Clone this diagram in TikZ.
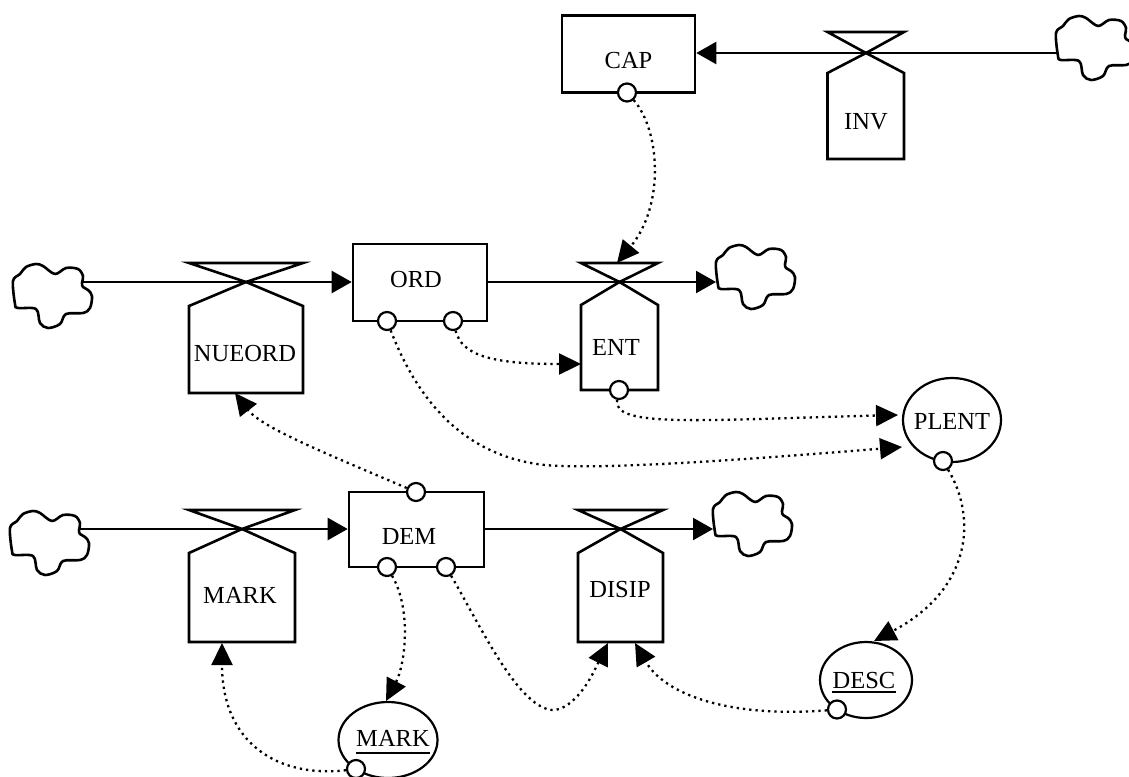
\documentclass[tikz,border=0pt]{standalone}
\usepackage{fontspec}
\setmainfont{Liberation Serif}
\usetikzlibrary{arrows.meta,shapes.geometric}
\tikzset{
  flowline/.style={line width=2.4pt,-{Triangle[length=20pt,width=22pt]}},
  infolink/.style={line width=2.3pt,dash pattern=on 2.3pt off 4pt,-{Triangle[length=22pt,width=21pt]}},
  stockbox/.style={draw,line width=2.6pt,inner sep=0pt},
  valveline/.style={line width=2.6pt,line join=miter},
  auxvar/.style={draw,ellipse,line width=2.2pt,inner sep=0pt},
  port/.style={draw,circle,fill=white,line width=2.2pt,minimum size=18pt,inner sep=0pt},
  lbl/.style={inner sep=0pt,font=\fontsize{24.5}{28}\selectfont},
  ulbar/.style={line width=2pt},
  cloudline/.style={line width=2.6pt,fill=white,line join=round},
  cloudshape/.pic={\draw[cloudline] plot[smooth cycle,tension=0.55] coordinates {
    (-40,-15) (-38,8) (-35,12) (-17,13) (-13,27) (-5,32) (7,28) (13,18) (30,17)
    (37,12) (39,0) (35,-6) (30,-9) (29,-13) (30,-20) (25,-27) (13,-28) (2,-22)
    (-10,-30) (-17,-32) (-27,-29) (-33,-22)};}
}
\begin{document}
\begin{tikzpicture}[x=1pt,y=-1pt]
\useasboundingbox (0,0) rectangle (1129,776);

% cloud attachment points
\coordinate (cTR) at (1058,53);
\coordinate (cL1) at (80,282);
\coordinate (cR1) at (716,282);
\coordinate (cL2) at (78,529);
\coordinate (cR2) at (713,529);

% stocks
\node[stockbox,minimum width=133pt,minimum height=77pt] (CAP) at (628.5,54) {};
\node[stockbox,minimum width=134pt,minimum height=77pt] (ORD) at (420,282.5) {};
\node[stockbox,minimum width=135pt,minimum height=75pt] (DEM) at (416.5,529.5) {};
\node[lbl] (CAPt) at (628.5,61) {CAP};
\node[lbl] (ORDt) at (416,280) {ORD};
\node[lbl] (DEMt) at (409,536) {DEM};

% flows
\draw[flowline] (cTR) -- (cTR -| CAP.east);
\draw[flowline] (cL1) -- (cL1 -| ORD.west);
\draw[flowline] (cL1 -| ORD.east) -- (cR1);
\draw[flowline] (cL2) -- (cL2 -| DEM.west);
\draw[flowline] (cL2 -| DEM.east) -- (cR2);

% clouds
\pic at (1096,48) {cloudshape};
\pic at (53,296) {cloudshape};
\pic at (756,277) {cloudshape};
\pic at (50,543) {cloudshape};
\pic at (753,524) {cloudshape};

% valves
\draw[valveline] (827.5,32) -- (904,32) -- (866,53) -- cycle;
\draw[valveline] (866,53) -- (904,73) -- (904,159) -- (827.5,159) -- (827.5,73) -- cycle;
\node[lbl] (INV) at (866,122) {INV};

\draw[valveline] (189,263) -- (303,263) -- (246,282) -- cycle;
\draw[valveline] (246,282) -- (303,306) -- (303,393) -- (189,393) -- (189,306) -- cycle;
\node[lbl] (NUEORD) at (245,354) {NUEORD};

\draw[valveline] (581,263) -- (658,263) -- (619.5,282) -- cycle;
\draw[valveline] (619.5,282) -- (658,305) -- (658,390) -- (581,390) -- (581,305) -- cycle;
\node[lbl] (ENT) at (616,347) {ENT};

\draw[valveline] (189,510) -- (295,510) -- (242,529) -- cycle;
\draw[valveline] (242,529) -- (295,553) -- (295,642) -- (189,642) -- (189,553) -- cycle;
\node[lbl] (MARKv) at (240,595) {MARK};

\draw[valveline] (578,510) -- (663,510) -- (620.5,529) -- cycle;
\draw[valveline] (620.5,529) -- (663,553) -- (663,642) -- (578,642) -- (578,553) -- cycle;
\node[lbl] (DISIP) at (620,590) {DISIP};

% auxiliaries
\node[auxvar,minimum width=98pt,minimum height=84pt] (PLENT) at (952,420) {};
\node[lbl] (PLENTt) at (952,421) {PLENT};
\node[auxvar,minimum width=92pt,minimum height=76pt] (DESC) at (866,680) {};
\node[lbl] (DESCt) at (864,680) {DESC};
\draw[ulbar] ([yshift=-3.5pt]DESCt.base west) -- ([yshift=-3.5pt]DESCt.base east);
\node[auxvar,minimum width=99pt,minimum height=76pt] (MARKa) at (388,740) {};
\node[lbl] (MARKat) at (393,738) {MARK};
\draw[ulbar] ([yshift=-7pt]MARKat.base west) -- ([yshift=-7pt]MARKat.base east);

% ports
\node[port] (pCAP) at (627,92.5) {};
\node[port] (pORD1) at (387,321) {};
\node[port] (pORD2) at (453,321) {};
\node[port] (pENT) at (619,390) {};
\node[port] (pDEMt) at (416,492) {};
\node[port] (pDEM1) at (387,567) {};
\node[port] (pDEM2) at (446,567) {};
\node[port] (pPLENT) at (943,461) {};
\node[port] (pDESC) at (837,709.5) {};
\node[port] (pMARK) at (356,769) {};

% link targets
\coordinate (ENTtop) at (617,263);
\coordinate (ENTleft) at (581,364);
\coordinate (PLENTa) at (898,415);
\coordinate (PLENTb) at (902,447);
\coordinate (NUEbot) at (235,393);
\coordinate (MARKtop) at (386,701);
\coordinate (DESCtop) at (874,641);
\coordinate (DISIPl) at (608,643);
\coordinate (DISIPr) at (635,643);
\coordinate (MARKvbot) at (222,643);

% information links
\draw[infolink] (pCAP) .. controls (660,130) and (665,205) .. (ENTtop);
\draw[infolink] (pORD2) .. controls (462,355) and (490,364) .. (ENTleft);
\draw[infolink] (pENT) .. controls (612,428) and (700,420) .. (PLENTa);
\draw[infolink] (pORD1) .. controls (410,380) and (450,455) .. (545,465) .. controls (610,471) and (800,455) .. (PLENTb);
\draw[infolink] (pDEMt) .. controls (330,455) and (262,428) .. (NUEbot);
\draw[infolink] (pDEM1) .. controls (412,610) and (405,665) .. (MARKtop);
\draw[infolink] (pDEM2) .. controls (480,625) and (520,712) .. (555,710) .. controls (580,706) and (597,665) .. (DISIPl);
\draw[infolink] (pDESC) .. controls (730,718) and (665,695) .. (DISIPr);
\draw[infolink] (pPLENT) .. controls (978,520) and (970,590) .. (DESCtop);
\draw[infolink] (pMARK) .. controls (280,778) and (222,745) .. (MARKvbot);
\end{tikzpicture}
\end{document}
